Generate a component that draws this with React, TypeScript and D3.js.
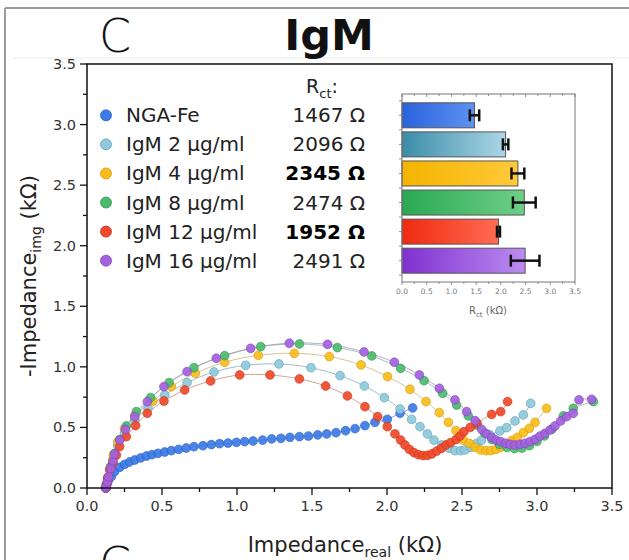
import React from "react";
import * as d3 from "d3";

// ---------- data ----------
const seriesNames = ["NGA-Fe", "IgM 2 µg/ml", "IgM 4 µg/ml", "IgM 8 µg/ml", "IgM 12 µg/ml", "IgM 16 µg/ml"];
const rctLabels = ["1467 Ω", "2096 Ω", "2345 Ω", "2474 Ω", "1952 Ω", "2491 Ω"];
const rctBold = [false, false, true, false, true, false];
const rctValues = [1.467, 2.096, 2.345, 2.474, 1.952, 2.491];
const rctErrors = [0.095, 0.055, 0.13, 0.23, 0.03, 0.29];
const xTicks = [0, 0.5, 1.0, 1.5, 2.0, 2.5, 3.0, 3.5];
const yTicks = [0, 0.5, 1.0, 1.5, 2.0, 2.5, 3.0, 3.5];

const ngaFe: [number, number][] = [
  [0.125, 0.0], [0.13, 0.025], [0.14, 0.055], [0.162, 0.093], [0.184, 0.135], [0.218, 0.171], [0.251, 0.195],
  [0.284, 0.215], [0.318, 0.231], [0.358, 0.248], [0.396, 0.264], [0.433, 0.275], [0.473, 0.286], [0.518, 0.297],
  [0.562, 0.308], [0.611, 0.319], [0.662, 0.33], [0.713, 0.341], [0.773, 0.349], [0.829, 0.358], [0.884, 0.366],
  [0.94, 0.371], [0.996, 0.377], [1.051, 0.383], [1.107, 0.388], [1.171, 0.396], [1.231, 0.405], [1.293, 0.41],
  [1.353, 0.418], [1.416, 0.424], [1.476, 0.429], [1.538, 0.438], [1.598, 0.446], [1.66, 0.457], [1.724, 0.473],
  [1.787, 0.49], [1.853, 0.515], [1.92, 0.542], [2.002, 0.567], [2.087, 0.617], [2.171, 0.661],
];
const igm2: [number, number][] = [
  [0.125, 0.0], [0.13, 0.03], [0.14, 0.08], [0.155, 0.16], [0.175, 0.25], [0.205, 0.35], [0.25, 0.45], [0.32, 0.56],
  [0.407, 0.658], [0.518, 0.768], [0.667, 0.87], [0.847, 0.958], [1.058, 1.013], [1.28, 1.024], [1.493, 0.993],
  [1.687, 0.927], [1.849, 0.842], [1.982, 0.746], [2.087, 0.652], [2.164, 0.567], [2.22, 0.506], [2.269, 0.446],
  [2.313, 0.396], [2.364, 0.355], [2.416, 0.328], [2.453, 0.308], [2.491, 0.308], [2.52, 0.314], [2.558, 0.336],
  [2.598, 0.369], [2.631, 0.396], [2.687, 0.438], [2.753, 0.471], [2.798, 0.498], [2.853, 0.553], [2.909, 0.603],
  [2.958, 0.699],
];
const igm4: [number, number][] = [
  [0.125, 0.0], [0.13, 0.03], [0.14, 0.085], [0.155, 0.17], [0.175, 0.27], [0.205, 0.38], [0.25, 0.49], [0.32, 0.6],
  [0.44, 0.718], [0.562, 0.837], [0.722, 0.947], [0.918, 1.038], [1.142, 1.095], [1.382, 1.112], [1.615, 1.085],
  [1.827, 1.016], [2.004, 0.919], [2.153, 0.815], [2.26, 0.713], [2.349, 0.622], [2.409, 0.542], [2.46, 0.473],
  [2.509, 0.396], [2.549, 0.369], [2.587, 0.336], [2.624, 0.314], [2.66, 0.308], [2.693, 0.308], [2.727, 0.319],
  [2.758, 0.336], [2.798, 0.363], [2.831, 0.391], [2.869, 0.418], [2.909, 0.457], [2.949, 0.493], [2.987, 0.542],
  [3.064, 0.658],
];
const igm8: [number, number][] = [
  [0.125, 0.0], [0.13, 0.03], [0.14, 0.09], [0.158, 0.176], [0.184, 0.286], [0.218, 0.4], [0.262, 0.512],
  [0.329, 0.63], [0.424, 0.746], [0.547, 0.87], [0.713, 0.993], [0.918, 1.092], [1.158, 1.167], [1.416, 1.189],
  [1.669, 1.159], [1.898, 1.09], [2.091, 0.988], [2.247, 0.886], [2.371, 0.782], [2.464, 0.685], [2.542, 0.595],
  [2.6, 0.52], [2.65, 0.455], [2.7, 0.4], [2.75, 0.36], [2.8, 0.335], [2.85, 0.325], [2.9, 0.33], [2.95, 0.35],
  [3.0, 0.385], [3.05, 0.43], [3.1, 0.485], [3.176, 0.595], [3.242, 0.658], [3.376, 0.713],
];
const igm12: [number, number][] = [
  [0.128, 0.0], [0.132, 0.03], [0.138, 0.08], [0.151, 0.149], [0.173, 0.209], [0.196, 0.272], [0.218, 0.341],
  [0.262, 0.424], [0.324, 0.515], [0.402, 0.617], [0.513, 0.718], [0.651, 0.809], [0.824, 0.884], [1.018, 0.933],
  [1.22, 0.933], [1.416, 0.9], [1.591, 0.842], [1.736, 0.76], [1.853, 0.671], [1.938, 0.589], [2.002, 0.506],
  [2.053, 0.446], [2.091, 0.396], [2.12, 0.355], [2.149, 0.319], [2.18, 0.292], [2.209, 0.275], [2.24, 0.268],
  [2.27, 0.27], [2.3, 0.282], [2.331, 0.305], [2.364, 0.328], [2.393, 0.355], [2.424, 0.374], [2.46, 0.4],
  [2.487, 0.429], [2.513, 0.465], [2.555, 0.5], [2.6, 0.535], [2.698, 0.608], [2.758, 0.63], [2.804, 0.713],
];
const igm16: [number, number][] = [
  [0.125, 0.0], [0.129, 0.011], [0.136, 0.052], [0.144, 0.093], [0.158, 0.162], [0.173, 0.225], [0.184, 0.281],
  [0.218, 0.396], [0.256, 0.484], [0.318, 0.589], [0.402, 0.713], [0.513, 0.837], [0.667, 0.961], [0.862, 1.071],
  [1.091, 1.153], [1.349, 1.195], [1.604, 1.186], [1.847, 1.123], [2.049, 1.038], [2.216, 0.933], [2.349, 0.823],
  [2.453, 0.727], [2.531, 0.63], [2.587, 0.556], [2.631, 0.484], [2.664, 0.446], [2.698, 0.418], [2.727, 0.396],
  [2.758, 0.383], [2.791, 0.369], [2.82, 0.361], [2.853, 0.355], [2.887, 0.361], [2.92, 0.369], [2.953, 0.383],
  [2.987, 0.402], [3.02, 0.429], [3.053, 0.451], [3.087, 0.479], [3.12, 0.512], [3.158, 0.553], [3.198, 0.589],
  [3.242, 0.617], [3.28, 0.727], [3.364, 0.732],
];
const allSeries = [ngaFe, igm2, igm4, igm8, igm12, igm16];

// ---------- styles ----------
const pointFill = ["#3d7be6", "#8ecadb", "#f8bd1c", "#4dbb6c", "#f04a2a", "#a462de"];
const pointStroke = ["#2a5fc0", "#5d9fb5", "#d59a00", "#2f9550", "#c8301a", "#7d3fbf"];
const lineColor = ["#6f93d8", "#86aebb", "#c9b57a", "#8fb89a", "#d08a78", "#a594c4"];
const barLeft = ["#2a62dc", "#3a8ca8", "#f5b400", "#2aa852", "#ee2a10", "#8030d0"];
const barRight = ["#5f92f2", "#acd6e6", "#ffc93a", "#6fcf88", "#ff6b52", "#bb8cf0"];

const FONT = "'DejaVu Sans', 'Liberation Sans', sans-serif";

export default function App() {
  const W = 629, H = 560;
  const x = d3.scaleLinear().domain([0, 3.5]).range([87, 612]);
  const y = d3.scaleLinear().domain([0, 3.5]).range([488, 64]);
  const minor = d3.range(0, 3.5001, 0.25);

  const line = d3.line<[number, number]>()
    .x(d => x(d[0]))
    .y(d => y(d[1]))
    .curve(d3.curveCatmullRom.alpha(0.5));

  // inset
  const ix = d3.scaleLinear().domain([0, 3.5]).range([402, 575]);
  const iy = d3.scaleBand<string>().domain(seriesNames).range([97, 279]).paddingInner(0.14).paddingOuter(0.2);
  const insetTop = 94, insetBottom = 282;
  const leftTicks: number[] = [];
  seriesNames.forEach(n => {
    const s = iy(n)!;
    leftTicks.push(s - iy.step() * 0.07, s + iy.bandwidth() / 2);
  });
  leftTicks.push(iy(seriesNames[5])! + iy.bandwidth() + iy.step() * 0.07);

  const legendY = (i: number) => iy(seriesNames[i])! + iy.bandwidth() / 2;

  return (
    <svg width={W} height={H} style={{ position: "absolute", left: 0, top: 0, background: "#fff" }} fontFamily={FONT}>
      <defs>
        {barLeft.map((c, i) => (
          <linearGradient key={i} id={`bg${i}`} x1="0" x2="1" y1="0" y2="0">
            <stop offset="0%" stopColor={c} />
            <stop offset="100%" stopColor={barRight[i]} />
          </linearGradient>
        ))}
      </defs>
      {/* figure border */}
      <line x1={5} x2={629} y1={8} y2={8} stroke="#9c9c9c" strokeWidth={2} />
      <line x1={5} x2={5} y1={8} y2={560} stroke="#9c9c9c" strokeWidth={2} />
      <line x1={14} x2={629} y1={58} y2={58} stroke="#ececec" strokeWidth={1} />

      {/* panel letter + title */}
      <text x={115} y={52} fontSize={46} fontWeight={200} textAnchor="middle" fill="#111">C</text>
      <text x={115} y={580} fontSize={46} fontWeight={200} textAnchor="middle" fill="#111">C</text>
      <text x={329} y={50} fontSize={43} fontWeight="bold" textAnchor="middle" fill="#111">IgM</text>

      {/* fit lines */}
      {allSeries.map((s, i) => (
        <path key={`l${i}`} d={line(s)!} fill="none" stroke={lineColor[i]} strokeWidth={1} opacity={0.8} />
      ))}
      {/* points */}
      {allSeries.map((s, i) => (
        <g key={`p${i}`}>
          {s.map((d, j) => (
            <circle key={j} cx={x(d[0])} cy={y(d[1])} r={4.4} fill={pointFill[i]} stroke={pointStroke[i]} strokeWidth={0.6} fillOpacity={0.92} />
          ))}
        </g>
      ))}

      {/* frame */}
      <rect x={87} y={64} width={525} height={424} fill="none" stroke="#111" strokeWidth={1.5} />
      {/* x ticks */}
      {minor.map((t, i) => (
        <line key={`xt${i}`} x1={x(t)} x2={x(t)} y1={488} y2={488 + (i % 2 === 0 ? 7 : 4)} stroke="#111" strokeWidth={1.3} />
      ))}
      {xTicks.map((t, i) => (
        <text key={`xl${i}`} x={x(t)} y={511} fontSize={14.5} textAnchor="middle" fill="#333">{t.toFixed(1)}</text>
      ))}
      {/* y ticks */}
      {minor.map((t, i) => (
        <line key={`yt${i}`} y1={y(t)} y2={y(t)} x1={87} x2={87 - (i % 2 === 0 ? 7 : 4)} stroke="#111" strokeWidth={1.3} />
      ))}
      {yTicks.map((t, i) => (
        <text key={`yl${i}`} x={76} y={y(t) + 5} fontSize={14.5} textAnchor="end" fill="#333">{t.toFixed(1)}</text>
      ))}
      {/* axis titles */}
      <text x={345} y={552} fontSize={21} textAnchor="middle" fill="#222">
        Impedance<tspan fontSize={14} dy={5}>real</tspan><tspan dy={-5}> (kΩ)</tspan>
      </text>
      <text transform="translate(36,276) rotate(-90)" fontSize={21} textAnchor="middle" fill="#222">
        -Impedance<tspan fontSize={14} dy={5}>img</tspan><tspan dy={-5}> (kΩ)</tspan>
      </text>

      {/* legend */}
      <text x={322} y={93} fontSize={19} textAnchor="middle" fill="#222">
        R<tspan fontSize={13} dy={5}>ct</tspan><tspan dy={-5}>:</tspan>
      </text>
      {seriesNames.map((n, i) => (
        <g key={`lg${i}`}>
          <circle cx={106} cy={legendY(i)} r={5.5} fill={pointFill[i]} stroke={pointStroke[i]} strokeWidth={0.8} />
          <text x={126} y={legendY(i) + 7} fontSize={20} fill="#222">{n}</text>
          <text x={365} y={legendY(i) + 7} fontSize={20} textAnchor="end" fill={rctBold[i] ? "#000" : "#222"} fontWeight={rctBold[i] ? "bold" : "normal"}>{rctLabels[i]}</text>
        </g>
      ))}

      {/* inset bar chart */}
      <rect x={402} y={insetTop} width={173} height={insetBottom - insetTop} fill="#fff" stroke="none" />
      {seriesNames.map((n, i) => (
        <rect key={`b${i}`} x={ix(0)} y={iy(n)!} width={ix(rctValues[i]) - ix(0)} height={iy.bandwidth()}
          fill={`url(#bg${i})`} stroke="#555" strokeWidth={1} />
      ))}
      {seriesNames.map((n, i) => {
        const cy = iy(n)! + iy.bandwidth() / 2;
        const x1 = ix(rctValues[i] - rctErrors[i]);
        const x2 = ix(rctValues[i] + rctErrors[i]);
        return (
          <g key={`e${i}`} stroke="#111" strokeWidth={2.5}>
            <line x1={x1} x2={x2} y1={cy} y2={cy} />
            <line x1={x1} x2={x1} y1={cy - 6} y2={cy + 6} />
            <line x1={x2} x2={x2} y1={cy - 6} y2={cy + 6} />
          </g>
        );
      })}
      <rect x={402} y={insetTop} width={173} height={insetBottom - insetTop} fill="none" stroke="#777" strokeWidth={1} />
      {minor.map((t, i) => (
        <g key={`it${i}`} stroke="#777" strokeWidth={0.8}>
          <line x1={ix(t)} x2={ix(t)} y1={insetTop} y2={insetTop + (i % 2 === 0 ? 3 : 2)} />
          <line x1={ix(t)} x2={ix(t)} y1={insetBottom} y2={insetBottom + (i % 2 === 0 ? 3 : 2)} />
        </g>
      ))}
      {leftTicks.map((t, i) => (
        <line key={`ilt${i}`} x1={402} x2={399} y1={t} y2={t} stroke="#777" strokeWidth={0.8} />
      ))}
      {xTicks.map((t, i) => (
        <text key={`ixl${i}`} x={ix(t)} y={294} fontSize={7.5} textAnchor="middle" fill="#777">{t.toFixed(1)}</text>
      ))}
      <text x={488} y={314} fontSize={10} textAnchor="middle" fill="#666">
        R<tspan fontSize={7} dy={3}>ct</tspan><tspan dy={-3}> (kΩ)</tspan>
      </text>
    </svg>
  );
}
